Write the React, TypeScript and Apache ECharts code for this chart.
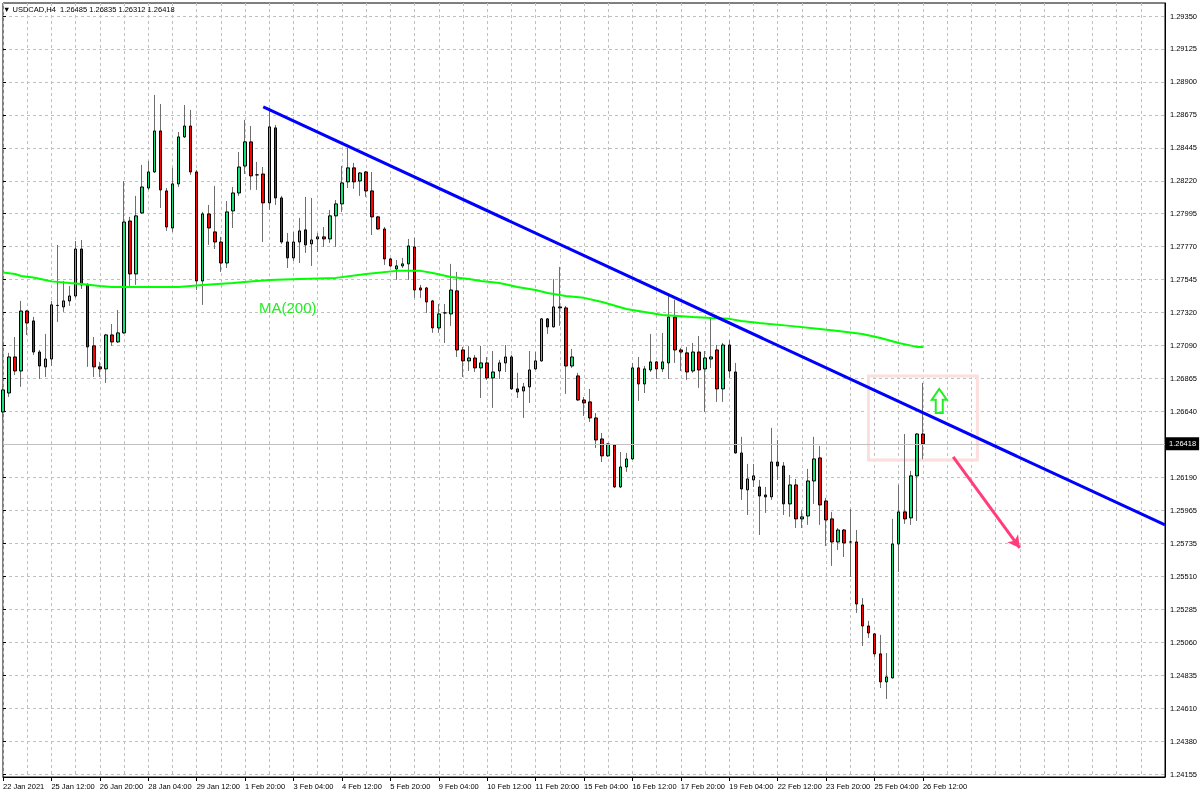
import { useEffect, useRef } from 'react';
import * as echarts from 'echarts';

const symbolName = 'USDCAD,H4';
const timeLabels = ['22 Jan 2021', '25 Jan 12:00', '26 Jan 20:00', '28 Jan 04:00', '29 Jan 12:00', '1 Feb 20:00', '3 Feb 04:00', '4 Feb 12:00', '5 Feb 20:00', '9 Feb 04:00', '10 Feb 12:00', '11 Feb 20:00', '15 Feb 04:00', '16 Feb 12:00', '17 Feb 20:00', '19 Feb 04:00', '22 Feb 12:00', '23 Feb 20:00', '25 Feb 04:00', '26 Feb 12:00'];
const priceLabels = ['1.24155', '1.24380', '1.24610', '1.24835', '1.25060', '1.25285', '1.25510', '1.25735', '1.25965', '1.26190', '1.26415', '1.26640', '1.26865', '1.27090', '1.27320', '1.27545', '1.27770', '1.27995', '1.28220', '1.28445', '1.28675', '1.28900', '1.29125', '1.29350'];

const opens = [1.26636, 1.26766, 1.27013, 1.26917, 1.27328, 1.27260, 1.27047, 1.26945, 1.26999, 1.27366, 1.27356, 1.27397, 1.27431, 1.27753, 1.27507, 1.27089, 1.26945, 1.26931, 1.27164, 1.27116, 1.27178, 1.27945, 1.27582, 1.28000, 1.28171, 1.28281, 1.28562, 1.28151, 1.27897, 1.28199, 1.28521, 1.28596, 1.28281, 1.27534, 1.27993, 1.27870, 1.27801, 1.27657, 1.28014, 1.28137, 1.28322, 1.28487, 1.28261, 1.28267, 1.28069, 1.28583, 1.28103, 1.27801, 1.27692, 1.27801, 1.27884, 1.27788, 1.27822, 1.27836, 1.27822, 1.27980, 1.28062, 1.28213, 1.28309, 1.28219, 1.28281, 1.28151, 1.27973, 1.27890, 1.27685, 1.27616, 1.27637, 1.27651, 1.27767, 1.27486, 1.27486, 1.27397, 1.27212, 1.27315, 1.27308, 1.27466, 1.27061, 1.26986, 1.27006, 1.26938, 1.26972, 1.26869, 1.26917, 1.26972, 1.27013, 1.26794, 1.26780, 1.26808, 1.26931, 1.26986, 1.27274, 1.27219, 1.27356, 1.27349, 1.26951, 1.26883, 1.26718, 1.26705, 1.26595, 1.26451, 1.26335, 1.26410, 1.26122, 1.26259, 1.26314, 1.26938, 1.26828, 1.26924, 1.26979, 1.26931, 1.26972, 1.27287, 1.27061, 1.27041, 1.26917, 1.27047, 1.26931, 1.26999, 1.27061, 1.26794, 1.27095, 1.26910, 1.26355, 1.26102, 1.26170, 1.26122, 1.26067, 1.26054, 1.26293, 1.26266, 1.26006, 1.26136, 1.25903, 1.25923, 1.26163, 1.26321, 1.26026, 1.25903, 1.25745, 1.25827, 1.25745, 1.25745, 1.25313, 1.25169, 1.25115, 1.24978, 1.24786, 1.24813, 1.25731, 1.25951, 1.25910, 1.26198, 1.26485];
const highs = [1.26814, 1.27041, 1.27150, 1.27397, 1.27335, 1.27287, 1.27061, 1.27171, 1.27397, 1.27781, 1.27534, 1.27500, 1.27808, 1.27815, 1.27520, 1.27150, 1.26979, 1.27171, 1.27239, 1.27335, 1.28219, 1.27973, 1.28117, 1.28329, 1.28357, 1.28809, 1.28747, 1.28171, 1.28309, 1.28555, 1.28740, 1.28706, 1.28295, 1.28007, 1.28055, 1.28185, 1.27836, 1.28082, 1.28178, 1.28418, 1.28638, 1.28596, 1.28350, 1.28315, 1.28720, 1.28603, 1.28117, 1.27863, 1.27870, 1.27966, 1.28110, 1.28103, 1.27863, 1.27904, 1.28021, 1.28089, 1.28322, 1.28446, 1.28343, 1.28281, 1.28288, 1.28281, 1.27980, 1.27904, 1.27692, 1.27678, 1.27692, 1.27822, 1.27829, 1.27507, 1.27493, 1.27404, 1.27376, 1.27376, 1.27651, 1.27596, 1.27082, 1.27089, 1.27027, 1.27089, 1.27013, 1.27054, 1.26993, 1.27095, 1.27027, 1.26904, 1.26835, 1.27054, 1.27047, 1.27280, 1.27280, 1.27548, 1.27630, 1.27363, 1.27068, 1.26904, 1.26739, 1.26794, 1.26629, 1.26492, 1.26420, 1.26417, 1.26362, 1.26355, 1.26972, 1.27013, 1.26951, 1.27171, 1.26986, 1.27178, 1.27438, 1.27404, 1.27075, 1.27082, 1.27109, 1.27157, 1.27054, 1.27287, 1.27095, 1.27109, 1.27130, 1.26972, 1.26465, 1.26280, 1.26280, 1.26170, 1.26122, 1.26527, 1.26444, 1.26293, 1.26204, 1.26177, 1.25965, 1.26246, 1.26465, 1.26403, 1.26047, 1.25951, 1.25841, 1.25834, 1.25971, 1.25827, 1.25361, 1.25204, 1.25121, 1.25108, 1.24984, 1.25903, 1.26136, 1.26485, 1.26232, 1.26492, 1.26835];
const lows = [1.26581, 1.26739, 1.26890, 1.26808, 1.27164, 1.27027, 1.26862, 1.26876, 1.26951, 1.27253, 1.27322, 1.27363, 1.27418, 1.27479, 1.26945, 1.26876, 1.26876, 1.26835, 1.27089, 1.27109, 1.27171, 1.27500, 1.27507, 1.27993, 1.28158, 1.28274, 1.28034, 1.27877, 1.27870, 1.28178, 1.28514, 1.28261, 1.27472, 1.27370, 1.27781, 1.27753, 1.27596, 1.27623, 1.27897, 1.28117, 1.28267, 1.28158, 1.28158, 1.27801, 1.28021, 1.28055, 1.27788, 1.27623, 1.27671, 1.27657, 1.27726, 1.27637, 1.27733, 1.27767, 1.27795, 1.27767, 1.28007, 1.28171, 1.28165, 1.28117, 1.28110, 1.27849, 1.27884, 1.27644, 1.27630, 1.27541, 1.27623, 1.27541, 1.27418, 1.27418, 1.27315, 1.27178, 1.27178, 1.27109, 1.27226, 1.27013, 1.26876, 1.26917, 1.26910, 1.26732, 1.26856, 1.26664, 1.26862, 1.26910, 1.26787, 1.26732, 1.26595, 1.26698, 1.26924, 1.26980, 1.27171, 1.27215, 1.27226, 1.26760, 1.26938, 1.26712, 1.26609, 1.26568, 1.26389, 1.26293, 1.26328, 1.26115, 1.26115, 1.26225, 1.26307, 1.26712, 1.26766, 1.26910, 1.26862, 1.26910, 1.26862, 1.26972, 1.26917, 1.26856, 1.26904, 1.26801, 1.26636, 1.26938, 1.26705, 1.26705, 1.26869, 1.26350, 1.26033, 1.25930, 1.26122, 1.25793, 1.25944, 1.26033, 1.26170, 1.25930, 1.25917, 1.25841, 1.25841, 1.25862, 1.26006, 1.25862, 1.25718, 1.25581, 1.25690, 1.25642, 1.25505, 1.25259, 1.25032, 1.25087, 1.24957, 1.24744, 1.24669, 1.24810, 1.25540, 1.25869, 1.25862, 1.25889, 1.26312];
const closes = [1.26787, 1.27013, 1.26917, 1.27328, 1.27246, 1.27047, 1.26951, 1.26999, 1.27370, 1.27366, 1.27397, 1.27431, 1.27753, 1.27507, 1.27082, 1.26945, 1.26931, 1.27164, 1.27116, 1.27178, 1.27938, 1.27582, 1.27980, 1.28178, 1.28281, 1.28562, 1.28158, 1.27904, 1.28199, 1.28521, 1.28596, 1.28281, 1.27534, 1.27993, 1.27897, 1.27801, 1.27657, 1.28007, 1.28137, 1.28315, 1.28487, 1.28254, 1.28261, 1.28069, 1.28590, 1.28103, 1.27801, 1.27692, 1.27801, 1.27877, 1.27781, 1.27815, 1.27836, 1.27822, 1.27980, 1.28062, 1.28206, 1.28309, 1.28213, 1.28274, 1.28151, 1.27973, 1.27890, 1.27685, 1.27637, 1.27637, 1.27651, 1.27774, 1.27472, 1.27472, 1.27390, 1.27212, 1.27308, 1.27315, 1.27472, 1.27061, 1.26986, 1.27006, 1.26938, 1.26972, 1.26869, 1.26910, 1.26972, 1.27013, 1.26794, 1.26773, 1.26808, 1.26924, 1.26986, 1.27274, 1.27219, 1.27356, 1.27349, 1.26951, 1.27013, 1.26718, 1.26698, 1.26595, 1.26444, 1.26335, 1.26417, 1.26122, 1.26259, 1.26314, 1.26938, 1.26828, 1.26931, 1.26979, 1.26931, 1.26979, 1.27287, 1.27061, 1.27047, 1.26910, 1.27047, 1.26924, 1.27006, 1.27013, 1.26794, 1.27095, 1.26917, 1.26355, 1.26108, 1.26177, 1.26198, 1.26060, 1.26054, 1.26293, 1.26266, 1.26006, 1.26136, 1.25903, 1.25917, 1.26163, 1.26314, 1.25999, 1.25896, 1.25745, 1.25827, 1.25738, 1.25745, 1.25320, 1.25169, 1.25121, 1.24978, 1.24786, 1.24820, 1.25731, 1.25951, 1.25903, 1.26198, 1.26485, 1.26418];

const maIndex = [0, 2, 3, 5, 7, 8, 11, 13, 16, 18, 29, 33, 38, 44, 49, 55, 60, 65, 69, 71, 74, 77, 79, 82, 85, 88, 90, 93, 96, 99, 103, 109, 114, 117, 120, 122, 125, 130, 135, 138, 142, 145, 148, 151, 152];
const maValue = [1.27592, 1.27582, 1.27568, 1.27558, 1.27541, 1.27531, 1.27520, 1.27513, 1.27500, 1.27493, 1.27493, 1.27507, 1.27520, 1.27541, 1.27548, 1.27555, 1.27582, 1.27603, 1.27603, 1.27589, 1.27561, 1.27548, 1.27534, 1.27520, 1.27493, 1.27472, 1.27452, 1.27431, 1.27418, 1.27390, 1.27342, 1.27301, 1.27287, 1.27280, 1.27274, 1.27260, 1.27246, 1.27226, 1.27205, 1.27191, 1.27171, 1.27143, 1.27109, 1.27082, 1.27082];

const trendIndex = [43, 192];
const trendValue = [1.28727, 1.25862];

const boxIndex = [143, 161];
const boxValue = [1.26883, 1.26307];
const sellArrowIndex = [157, 168];
const sellArrowValue = [1.26328, 1.25704];
const buyArrow = { index: 154.7, top: 1.26794, bottom: 1.26629 };
const maLabel = { index: 42.3, value: 1.27349, text: 'MA(200)' };

const TOTAL_SLOTS = 193;
const AXIS_MIN = 1.24134;
const AXIS_MAX = 1.29439;

const FONT = "'Liberation Sans', Arial, sans-serif";
const SMALL = 7.5;
const UP = '#14e07a';
const DOWN = '#ff0000';
const WICK = '#6e6e6e';
const GRID = '#c0c0c0';

export default function App() {
  const ref = useRef<HTMLDivElement>(null);
  useEffect(() => {
    if (!ref.current) return;
    const chart = echarts.init(ref.current, null, { renderer: 'svg' });
    const n = opens.length;
    const full = opens.map((o, i) => [o, closes[i], lows[i], highs[i]]);
    const bodies = opens.map((o, i) => [o, closes[i], Math.min(o, closes[i]), Math.max(o, closes[i])]);
    const last = n - 1;
    const bid = closes[last];
    const fmt = (v: number) => v.toFixed(5);
    const title = `\u25BC ${symbolName}  ${fmt(opens[last])} ${fmt(highs[last])} ${fmt(lows[last])} ${fmt(closes[last])}`;
    const slots = Array.from({ length: TOTAL_SLOTS }, (_, i) => String(i));
    const showTick = (idx: number) => idx % 8 === 0 && idx / 8 < timeLabels.length;

    chart.setOption({
      animation: false,
      title: {
        text: title, left: 3, top: 5, padding: 0,
        textStyle: { fontSize: SMALL, fontWeight: 'normal', color: '#000', fontFamily: FONT },
      },
      grid: [
        { left: 3, right: 35, top: 3, bottom: 21, show: true, borderColor: '#000', borderWidth: 1 },
        { left: 3, right: 35, top: 16, bottom: 24, show: false },
      ],
      xAxis: [
        {
          gridIndex: 0, type: 'category', data: slots, boundaryGap: false,
          axisLine: { show: true, lineStyle: { color: '#000', width: 1 } },
          axisTick: { show: true, interval: (idx: number) => showTick(idx), length: 4, lineStyle: { color: '#000' } },
          axisLabel: {
            interval: (idx: number) => showTick(idx), align: 'left', margin: 5,
            fontSize: SMALL, color: '#000', fontFamily: FONT,
            formatter: (_v: string, idx: number) => timeLabels[idx / 8] ?? '',
          },
          splitLine: { show: true, interval: 3, lineStyle: { color: GRID, type: [3, 3], width: 1 } },
        },
        { gridIndex: 1, type: 'value', show: false },
      ],
      yAxis: [
        {
          gridIndex: 0, type: 'value', min: AXIS_MIN, max: AXIS_MAX, position: 'right',
          axisLine: { show: true, lineStyle: { color: '#000' } },
          axisTick: { show: false }, axisLabel: { show: false }, splitLine: { show: false },
        },
        {
          gridIndex: 1, type: 'category', data: priceLabels, boundaryGap: false, position: 'right',
          axisLine: { show: false },
          axisTick: { show: true, length: 3, interval: 0, lineStyle: { color: '#000' } },
          axisLabel: {
            interval: 0, margin: 5, fontSize: SMALL, color: '#000', fontFamily: FONT,
            formatter: (v: string) => (Math.abs(parseFloat(v) - bid) < 0.0005 ? '' : v),
          },
          splitLine: { show: true, interval: 0, lineStyle: { color: GRID, type: [3, 3], width: 1 } },
        },
      ],
      series: [
        {
          type: 'line', name: 'bid', xAxisIndex: 0, yAxisIndex: 0,
          data: [[last, bid]], showSymbol: false, silent: true, z: 1,
          lineStyle: { width: 0 },
          markLine: {
            silent: true, symbol: ['none', 'none'], animation: false,
            lineStyle: { color: GRID, type: 'solid', width: 1 },
            label: {
              show: true, position: 'end', distance: 1, formatter: fmt(bid),
              color: '#fff', backgroundColor: '#000', padding: [3, 3, 2, 3],
              fontSize: SMALL, fontFamily: FONT,
            },
            data: [[{ coord: [0, bid] }, { coord: [TOTAL_SLOTS - 1, bid] }]],
          },
        },
        {
          type: 'candlestick', name: 'wicks', xAxisIndex: 0, yAxisIndex: 0, data: full, barWidth: 1, silent: true, z: 2,
          itemStyle: { color: WICK, color0: WICK, borderColor: WICK, borderColor0: WICK, borderColorDoji: WICK, borderWidth: 1 },
          markArea: {
            silent: true,
            itemStyle: { color: 'rgba(0,0,0,0)', borderColor: '#fcdede', borderWidth: 3 },
            data: [[{ coord: [boxIndex[0], boxValue[0]] }, { coord: [boxIndex[1], boxValue[1]] }]],
          },
        },
        {
          type: 'candlestick', name: symbolName, xAxisIndex: 0, yAxisIndex: 0, data: bodies, barWidth: 3, silent: true, z: 3,
          itemStyle: { color: UP, color0: DOWN, borderColor: '#000', borderColor0: '#000', borderColorDoji: '#000', borderWidth: 1 },
        },
        {
          type: 'line', name: 'MA(200)', xAxisIndex: 0, yAxisIndex: 0,
          data: maIndex.map((i, k) => [i, maValue[k]]),
          showSymbol: false, silent: true, z: 4,
          lineStyle: { color: '#00ff00', width: 2 },
        },
        {
          type: 'line', name: 'trend', xAxisIndex: 0, yAxisIndex: 0,
          data: trendIndex.map((i, k) => [i, trendValue[k]]),
          showSymbol: false, silent: true, z: 5,
          lineStyle: { color: '#0000ff', width: 3 },
          markLine: {
            silent: true, animation: false, symbol: ['none', 'arrow'], symbolSize: [10, 12],
            lineStyle: { color: '#ff3d7a', width: 3, type: 'solid' },
            label: { show: false },
            data: [[{ coord: [sellArrowIndex[0], sellArrowValue[0]] }, { coord: [sellArrowIndex[1], sellArrowValue[1]] }]],
          },
        },
      ],
    });

    const toPx = (i: number, p: number) => {
      const f = Math.floor(i);
      const a = chart.convertToPixel({ seriesIndex: 1 }, [f, p]) as number[];
      const b = chart.convertToPixel({ seriesIndex: 1 }, [f + 1, p]) as number[];
      return [a[0] + (b[0] - a[0]) * (i - f), a[1]];
    };
    const [ax, ayTop] = toPx(buyArrow.index, buyArrow.top);
    const [, ayBot] = toPx(buyArrow.index, buyArrow.bottom);
    const head = ayTop + (ayBot - ayTop) * 0.45;
    const [lx, ly] = toPx(maLabel.index, maLabel.value);

    chart.setOption({
      graphic: [
        {
          type: 'polygon', silent: true, z: 10,
          shape: {
            points: [[ax, ayTop], [ax - 7.5, head], [ax - 3.5, head], [ax - 3.5, ayBot], [ax + 3.5, ayBot], [ax + 3.5, head], [ax + 7.5, head]],
          },
          style: { fill: 'none', stroke: '#22ee22', lineWidth: 2 },
        },
        {
          type: 'text', silent: true, z: 10, x: lx, y: ly,
          style: { text: maLabel.text, fill: '#22ee22', fontSize: 15, fontFamily: FONT, verticalAlign: 'middle', align: 'left' },
        },
      ],
    });

    return () => chart.dispose();
  }, []);
  return <div ref={ref} style={{ position: 'fixed', left: 0, top: 0, width: 1200, height: 798 }} />;
}
